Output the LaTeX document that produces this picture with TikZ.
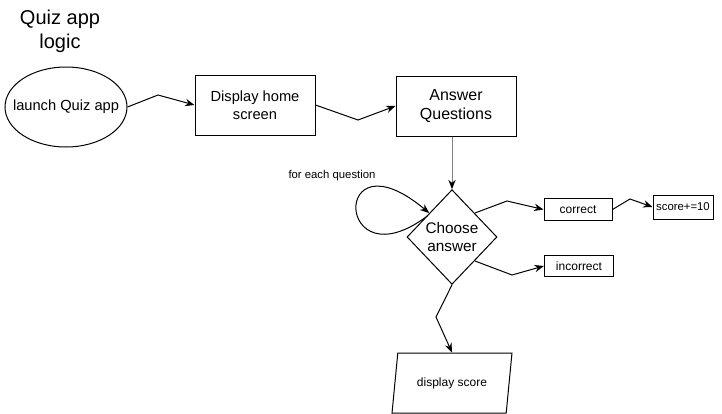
\documentclass[tikz,border=0pt]{standalone}
\usepackage{fontspec}
\setmainfont{Liberation Sans}
\usetikzlibrary{arrows.meta, shapes.geometric}

\begin{document}
\begin{tikzpicture}[
        x=0.75pt, y=-0.75pt,
        line width=0.75pt,
        heading/.style={align=center, font=\fontsize{15}{18}\selectfont},
        startnode/.style={ellipse, draw=black, inner xsep=-9pt, inner ysep=0pt, minimum width=91.5pt, minimum height=60pt, font=\fontsize{11}{13}\selectfont},
        process/.style={rectangle, draw=black, inner sep=0pt, align=center, minimum width=90pt, minimum height=45pt, font=\fontsize{11}{13.2}\selectfont},
        smallbox/.style={rectangle, draw=black, inner sep=0pt, minimum height=17pt, font=\fontsize{9}{11}\selectfont},
        decision/.style={diamond, draw=black, inner sep=0pt, align=center, minimum width=67.5pt, minimum height=71pt, font=\fontsize{11.5}{13.5}\selectfont},
        output/.style={trapezium, trapezium left angle=71.5, trapezium right angle=108.5, trapezium stretches=true, draw=black, inner sep=0pt, minimum width=90pt, minimum height=45pt, font=\fontsize{9}{11}\selectfont},
        note/.style={font=\fontsize{8.5}{10}\selectfont},
        flow/.style={-{Stealth[length=7pt, width=5.5pt]}},
    ]
        \useasboundingbox (0,0) rectangle (722,414);

        \node[heading] (title) at (60,31) {Quiz app\\logic};

        \node[startnode] (launch) at (66,107) {launch Quiz app};
        \node[process] (home) at (255,105) {Display home\\screen};
        \node[process, font=\fontsize{12}{14.4}\selectfont] (answer) at (456,106) {Answer\\Questions};
        \node[decision] (choose) at (452,237) {Choose\\answer};
        \node[smallbox, minimum width=51pt] (correct) at (578,209.5) {correct};
        \node[smallbox, minimum width=45pt, minimum height=18pt, font=\fontsize{8.5}{10}\selectfont] (score) at (683,207) {score+=10};
        \node[smallbox, minimum width=52pt, minimum height=15.5pt] (incorrect) at (579,266) {incorrect};
        \node[output] (result) at (452,383) {display score};
        \node[note] (loop_label) at (332,176) {for each question};

        \draw[flow] (launch.east) -- (158,95) -- (home.west);
        \draw[flow] (home.east) -- (358,120) -- (answer.west);
        \draw[-{Stealth[length=7pt, width=5.5pt, black]}, draw=black!50] (answer.south -| choose.north) -- (choose.north);
        \draw[flow] ([shift={(-2,3)}]choose.north west) .. controls (335,285) and (330,130) .. (choose.north west);
        \draw[flow] (choose.north east) -- (507,201) -- (correct.west);
        \draw[flow] (choose.south east) -- (512,275) -- (incorrect.west);
        \draw[flow] (correct.east) -- (630,199) -- (score.west);
        \draw[flow] (choose.south) -- (436,317) -- (result.north);
\end{tikzpicture}
\end{document}
